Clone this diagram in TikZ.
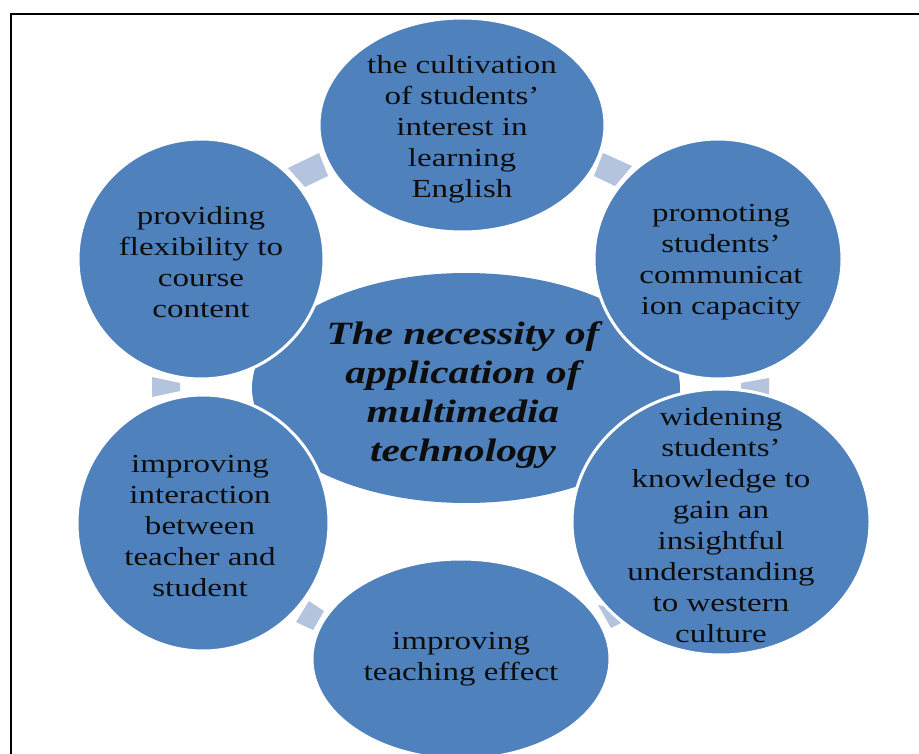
\documentclass[tikz,border=0pt]{standalone}
\usepackage{fontspec}
\setmainfont{Liberation Serif}
\newfontfamily\outerfont[FakeStretch=1.27]{Liberation Serif}
\newfontfamily\hubfont[FakeStretch=1.27]{Liberation Serif}
\usetikzlibrary{shapes.geometric}
\definecolor{bubblefill}{HTML}{4F81BD}
\definecolor{connfill}{HTML}{B4C3DE}
\definecolor{inktext}{HTML}{0D0D0D}
\tikzset{
  bubble/.style={ellipse, fill=bubblefill, draw=white, line width=3pt, inner sep=0pt},
  connshape/.style={fill=connfill},
  outertext/.style={align=center, text=inktext, inner sep=0pt,
    font=\outerfont\fontsize{26}{31}\selectfont},
  hubtext/.style={align=center, text=inktext, inner sep=0pt,
    font=\hubfont\bfseries\itshape\fontsize{32.5}{39}\selectfont},
  frameline/.style={draw=black, line width=2.5pt}
}
\begin{document}
\begin{tikzpicture}[x=1pt,y=-1pt]
\useasboundingbox (0,0) rectangle (919,754);
\clip (0,0) rectangle (919,754);
\fill[white] (0,0) rectangle (919,754);

% central ellipse
\node[bubble, draw=none, minimum width=428, minimum height=230] (hub) at (466,388) {};

% connectors
\fill[connshape] (288,168) -- (319,153) -- (328,176) -- (305,187) -- cycle;
\fill[connshape] (603,153) -- (632,166) -- (615,186) -- (594,176) -- cycle;
\fill[connshape] (741,383) -- (769,378) -- (769,395) -- (741,390) -- cycle;
\fill[connshape] (152,377) -- (180,383) -- (180,391) -- (152,397) -- cycle;
\fill[connshape] (309,601) -- (324,611) -- (313,630) -- (296,622) -- cycle;
\fill[connshape] (598,605) -- (609,607) -- (621,623) -- (611,628) -- cycle;

% outer bubbles
\node[bubble, minimum width=286, minimum height=214] (top) at (462,125) {};
\node[bubble, minimum width=246, minimum height=240] (ul) at (201,259) {};
\node[bubble, minimum width=248, minimum height=240] (ur) at (718,259) {};
\node[bubble, minimum width=298, minimum height=266] (lr) at (721,522) {};
\node[bubble, minimum width=252, minimum height=256] (ll) at (203,523) {};
\node[bubble, minimum width=298, minimum height=200] (bot) at (461,659) {};

% texts
\node[hubtext] (hubt) at (463,395) {The necessity of\\application of\\multimedia\\technology};
\node[outertext] (topt) at (462,129.5) {the cultivation\\of students’\\interest in\\learning\\English};
\node[outertext] (ult) at (201,262) {providing\\flexibility to\\course\\content};
\node[outertext] (urt) at (721,262) {promoting\\students’\\communicat\\ion capacity};
\node[outertext] (lrt) at (721,525) {widening\\students’\\knowledge to\\gain an\\insightful\\understanding\\to western\\culture};
\node[outertext] (llt) at (200,526) {improving\\interaction\\between\\teacher and\\student};
\node[outertext] (bott) at (461,659) {improving\\teaching effect};

% frame
\draw[frameline] (11,760) -- (11,14) -- (925,14);
\end{tikzpicture}
\end{document}
